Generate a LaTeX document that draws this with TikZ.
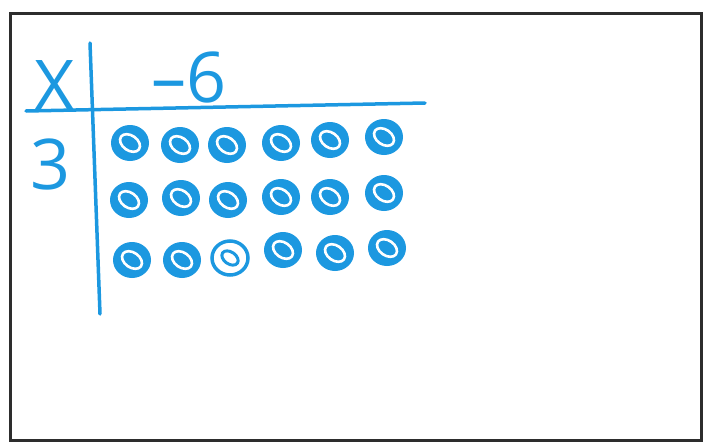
\documentclass[tikz,border=0pt]{standalone}
\usepackage{fontspec}
\setmainfont{Open Sans}
\usetikzlibrary{calc}
\usetikzlibrary{shapes.geometric}
\definecolor{marker}{RGB}{28,152,224}
\definecolor{frame}{RGB}{45,45,45}

\begin{document}
\begin{tikzpicture}[x=1pt,y=-1pt]
			\def\ringw{2.6pt}

			\tikzset{line/.style={draw,marker,line width=3.5pt,line cap=round}}
			\tikzset{label/.style={text=marker,inner sep=0pt,font=\fontsize{70}{70}\selectfont}}
			\tikzset{counter/.style={shape=ellipse,inner sep=0pt,minimum width=38pt,minimum height=36pt,fill=marker}}
			\tikzset{opencounter/.style={shape=ellipse,inner sep=0pt,minimum width=36pt,minimum height=34pt,draw=marker,line width=3.5pt,fill=white}}
			\tikzset{ring/.style={draw,white,line width=\ringw}}

			\useasboundingbox (0,0) rectangle (712,442);
			\draw[frame,line width=3pt] (10,13) rectangle (701,440);

			% table lines
			\coordinate (htop) at (26,111);
			\coordinate (hend) at (425,103);
			\coordinate (vtop) at (90,43);
			\coordinate (vend) at (100,314);
			\path[line] (htop) to (hend);
			\path[line] (vtop) to (vend);

			\node[label] (times) at (55,86) {X};
			\node[label] (cols) at (189,77) {--6};
			\node[label] (rows) at (51,164) {3};

			% counters: x/y
			\foreach \x/\y [count=\i] in {130/143,180/145,227/145,281/143,330/140,384/137}
				\node[counter] (a\i) at (\x,\y) {};
			\foreach \x/\y [count=\i] in {129/200,181/198,228/200,281/197,330/197,384/193}
				\node[counter] (b\i) at (\x,\y) {};
			\foreach \x/\y [count=\i] in {132/260,182/260,283/250,335/253,387/248}
				\node[counter] (c\i) at (\x,\y) {};
			\node[opencounter] (c0) at (230,258) {};

			% rings inside the counters
			\foreach \n in {a1,a2,a3,a4,a5,a6,b1,b2,b3,b4,b5,b6,c1,c2,c3,c4,c5}
				\path[ring,rotate around={-35:(\n.center)}] (\n.center) ellipse (11 and 7.5);
			\path[ring,marker,line width=3pt,rotate around={-35:(c0.center)}] (c0.center) ellipse (9 and 6);
		\end{tikzpicture}
\end{document}
